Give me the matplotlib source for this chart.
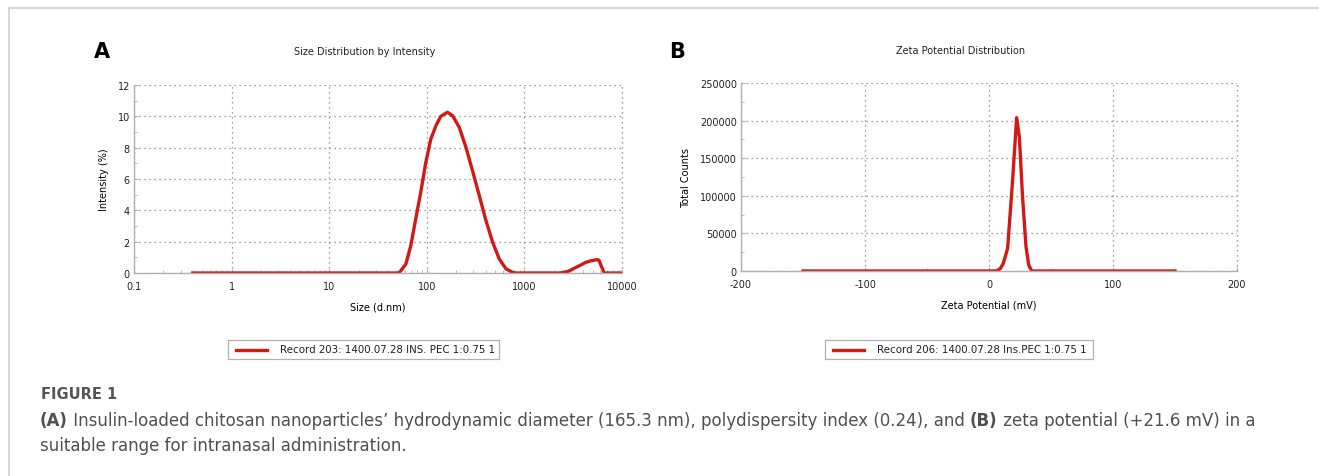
import matplotlib.pyplot as plt
from matplotlib.lines import Line2D

plt.rcParams['axes.unicode_minus'] = False

# Size distribution (panel A)
size_nm = [0.4, 52, 61, 68.5, 77, 86.7, 97.7, 110, 124, 139, 163, 184, 215,
           252, 294, 345, 404, 473, 553, 649, 759, 821, 2320, 2800, 3185,
           3700, 4190, 4800, 5520, 5800, 6560, 10000]
intensity = [0, 0, 0.57, 1.74, 3.45, 5.15, 7.06, 8.55, 9.4, 10.0, 10.26,
             10.04, 9.3, 8.02, 6.53, 4.94, 3.34, 1.96, 0.89, 0.26, 0.04, 0,
             0, 0.1, 0.28, 0.48, 0.66, 0.78, 0.85, 0.82, 0, 0]

# Zeta potential distribution (panel B)
zeta_mv = [-150, 6, 9, 11.5, 15, 19, 22.3, 24.5, 27, 29.8, 32, 34.5, 150]
counts = [0, 0, 3000, 10000, 30000, 120000, 204000, 178000, 100000, 33000,
          8000, 0, 0]

legend_a = "Record 203: 1400.07.28 INS. PEC 1:0.75 1"
legend_b = "Record 206: 1400.07.28 Ins.PEC 1:0.75 1"

red = "#d11a14"
W, H = 1319, 477
fig = plt.figure(figsize=(W / 100, H / 100), dpi=100)


def fx(px):
    return px / W


def fy(py):
    return 1 - py / H


def style(ax):
    for s in ["top", "right"]:
        ax.spines[s].set_visible(False)
    for s in ["left", "bottom"]:
        ax.spines[s].set_color("#b0b0b0")
        ax.spines[s].set_linewidth(1.0)
    ax.grid(True, which="major", linestyle=(0, (1, 3)), color="#808080", linewidth=0.9)
    ax.tick_params(which="both", direction="in", colors="#b0b0b0", labelcolor="#222222",
                   labelsize=7, length=3)
    ax.tick_params(axis="x", pad=6)
    ax.tick_params(axis="y", pad=3)
    ax.tick_params(which="minor", length=2)


# Panel A
axA = fig.add_axes([fx(134), fy(274), fx(622 - 134), (274 - 86) / H])
axA.plot(size_nm, intensity, color=red, lw=2.4, solid_joinstyle="round")
axA.set_xscale("log")
axA.set_xlim(0.1, 10000)
axA.set_ylim(0, 12)
axA.set_yticks(range(0, 13, 2))
axA.set_yticks(range(1, 12, 2), minor=True)
axA.set_xticks([0.1, 1, 10, 100, 1000, 10000])
axA.set_xticklabels(["0.1", "1", "10", "100", "1000", "10000"])
style(axA)
axA.set_xlabel("Size (d.nm)", fontsize=7, labelpad=7)
axA.set_ylabel("Intensity (%)", fontsize=7, labelpad=6)
axA.axvline(10000, linestyle=(0, (1, 3)), color="#808080", lw=0.9, clip_on=False)

# Panel B
axB = fig.add_axes([fx(741), fy(272), fx(1237 - 741), (272 - 84) / H])
axB.plot(zeta_mv, counts, color=red, lw=2.4, solid_joinstyle="round")
axB.set_xlim(-200, 200)
axB.set_ylim(0, 250000)
axB.set_xticks([-200, -100, 0, 100, 200])
axB.set_yticks(range(0, 250001, 50000))
axB.set_yticks(range(25000, 250000, 50000), minor=True)
axB.set_xticks([-150, -50, 50, 150], minor=True)
style(axB)
axB.set_xlabel("Zeta Potential (mV)", fontsize=7, labelpad=7)
axB.set_ylabel("Total Counts", fontsize=7, labelpad=6)
axB.axvline(200, linestyle=(0, (1, 3)), color="#808080", lw=0.9, clip_on=False)

# Titles and panel letters
fig.text(fx(365), fy(52), "Size Distribution by Intensity", fontsize=7,
         ha="center", va="center", color="#222222")
fig.text(fx(961), fy(51), "Zeta Potential Distribution", fontsize=7,
         ha="center", va="center", color="#222222")
fig.text(fx(94), fy(52), "A", fontsize=15, fontweight="bold", ha="left", va="center")
fig.text(fx(669), fy(52), "B", fontsize=15, fontweight="bold", ha="left", va="center")


# Legend boxes
def legend_box(x0, x1, y0, y1, label):
    box = plt.Rectangle((fx(x0), fy(y1)), fx(x1 - x0), (y1 - y0) / H,
                        transform=fig.transFigure, fill=False, edgecolor="#b0b0b0", lw=0.9)
    fig.add_artist(box)
    ym = fy((y0 + y1) / 2)
    fig.add_artist(Line2D([fx(x0 + 8), fx(x0 + 39)], [ym, ym], transform=fig.transFigure,
                          color=red, lw=2.4))
    fig.text(fx(x0 + 52), ym, label, fontsize=7.4, ha="left", va="center", color="#222222")


legend_box(228, 499, 341, 360, legend_a)
legend_box(825, 1093, 341, 360, legend_b)

# Outer frame lines
fig.add_artist(Line2D([fx(9), 1], [fy(9), fy(9)], transform=fig.transFigure,
                      color="#d0d0d0", lw=1.2))
fig.add_artist(Line2D([fx(9), fx(9)], [fy(9), 0], transform=fig.transFigure,
                      color="#d0d0d0", lw=1.2))

# Caption
cap_font = "DejaVu Sans"
fig.text(fx(41), fy(399), "FIGURE 1", fontsize=10.5, fontweight="bold", color="#555555",
         family=cap_font, ha="left", va="baseline")

fig.canvas.draw()
renderer = fig.canvas.get_renderer()


def run_text(x_px, y_px, parts, size=12):
    x = x_px
    for txt, bold in parts:
        t = fig.text(fx(x), fy(y_px), txt, fontsize=size, color="#505050", family=cap_font,
                     fontweight="bold" if bold else "normal", ha="left", va="baseline")
        x += t.get_window_extent(renderer).width


run_text(40, 426, [("(A)", True),
                   (" Insulin-loaded chitosan nanoparticles\u2019 hydrodynamic diameter (165.3 nm), "
                    "polydispersity index (0.24), and ", False),
                   ("(B)", True),
                   (" zeta potential (+21.6 mV) in a", False)])
run_text(40, 451, [("suitable range for intranasal administration.", False)])

fig.savefig("out.png", dpi=100)
